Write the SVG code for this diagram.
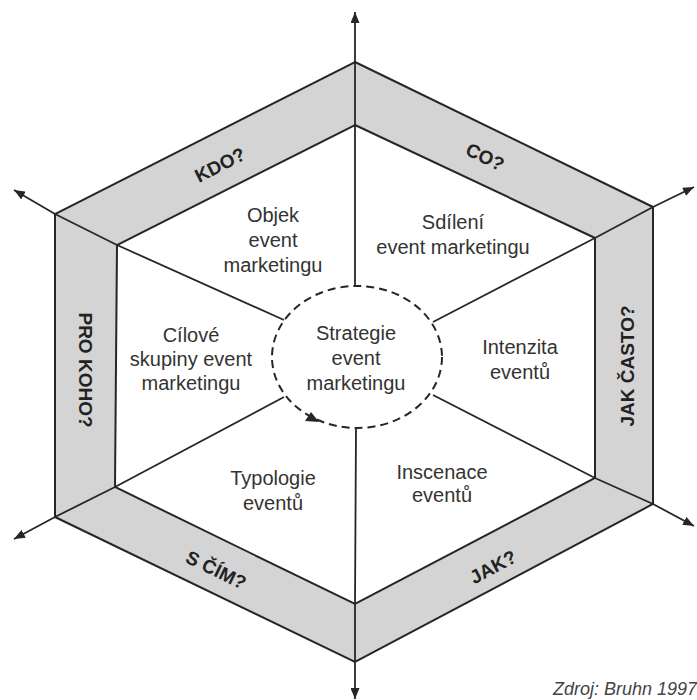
<svg xmlns="http://www.w3.org/2000/svg" width="697" height="700" viewBox="0 0 697 700">
  <style>
    .edge { fill: none; stroke: #262626; stroke-width: 2; stroke-linejoin: miter; }
    .band { fill: #d4d4d4; fill-rule: evenodd; stroke: none; }
    .spoke { fill: none; stroke: #262626; stroke-width: 1.8; marker-end: url(#arrow); }
    .region { font-family: "Liberation Sans", Arial, sans-serif; font-size: 20px; fill: #333; text-anchor: middle; }
    .label { font-family: "Liberation Sans", Arial, sans-serif; font-size: 19px; font-weight: bold; fill: #222; text-anchor: middle; dominant-baseline: central; }
    .src { font-family: "Liberation Sans", Arial, sans-serif; font-size: 18px; font-style: italic; fill: #444; text-anchor: end; }
  </style>
  <defs>
    <marker id="arrow" markerUnits="userSpaceOnUse" markerWidth="11" markerHeight="9" refX="11" refY="4.5" orient="auto">
      <path d="M0,0 L11,4.5 L0,9 z" fill="#262626"/>
    </marker>
  </defs>
  <rect width="697" height="700" fill="#ffffff"/>

  <g id="frame">
    <path class="band" d="M355,62 L653,207 L653,504 L355,662 L55,517 L55,214 Z M355,125 L117,245 L115,487 L355,604 L595,478 L595,238 Z"/>
    <polygon class="edge" points="355,62 653,207 653,504 355,662 55,517 55,214"/>
    <polygon class="edge" points="355,125 595,238 595,478 355,604 115,487 117,245"/>
  </g>

  <g id="connectors">
    <polyline class="spoke" points="355,287 355,125 355,62 355,12"/>
    <polyline class="spoke" points="284,320 117,245 55,214 14,190"/>
    <polyline class="spoke" points="433,322 595,238 653,207 694,187"/>
    <polyline class="spoke" points="284,397 115,487 55,517 14,539"/>
    <polyline class="spoke" points="433,395 595,478 653,504 694,526"/>
    <polyline class="spoke" points="356,428 355,604 355,662 355,699"/>
  </g>

  <g id="center">
    <ellipse cx="357" cy="357" rx="85" ry="71" fill="#ffffff" stroke="#262626" stroke-width="2" stroke-dasharray="8 5"/>
    <polygon points="305,421 311,412 319,422" fill="#262626"/>
    <text class="region" x="356"><tspan x="356" y="340">Strategie</tspan><tspan x="356" y="365">event</tspan><tspan x="356" y="390">marketingu</tspan></text>
  </g>

  <g id="kdo">
    <text class="label" transform="translate(220,165) rotate(-27)">KDO?</text>
  </g>
  <g id="co">
    <text class="label" transform="translate(485,157) rotate(26)">CO?</text>
  </g>
  <g id="jak-casto">
    <text class="label" transform="translate(627,366) rotate(-90)">JAK ČASTO?</text>
  </g>
  <g id="jak">
    <text class="label" transform="translate(493,567) rotate(-28)">JAK?</text>
  </g>
  <g id="s-cim">
    <text class="label" transform="translate(216,570) rotate(26)">S ČÍM?</text>
  </g>
  <g id="pro-koho">
    <text class="label" transform="translate(85,370) rotate(90)">PRO KOHO?</text>
  </g>

  <g id="objekt">
    <text class="region"><tspan x="273" y="222">Objek</tspan><tspan x="273" y="247">event</tspan><tspan x="273" y="272">marketingu</tspan></text>
  </g>
  <g id="sdileni">
    <text class="region"><tspan x="453" y="229">Sdílení</tspan><tspan x="453" y="254">event marketingu</tspan></text>
  </g>
  <g id="intenzita">
    <text class="region"><tspan x="520" y="354">Intenzita</tspan><tspan x="520" y="379">eventů</tspan></text>
  </g>
  <g id="inscenace">
    <text class="region"><tspan x="442" y="479">Inscenace</tspan><tspan x="442" y="502">eventů</tspan></text>
  </g>
  <g id="typologie">
    <text class="region"><tspan x="273" y="485">Typologie</tspan><tspan x="273" y="510">eventů</tspan></text>
  </g>
  <g id="cilove">
    <text class="region"><tspan x="191" y="342">Cílové</tspan><tspan x="191" y="366">skupiny event</tspan><tspan x="191" y="390">marketingu</tspan></text>
  </g>

  <text class="src" x="697" y="695">Zdroj: Bruhn 1997</text>
</svg>
